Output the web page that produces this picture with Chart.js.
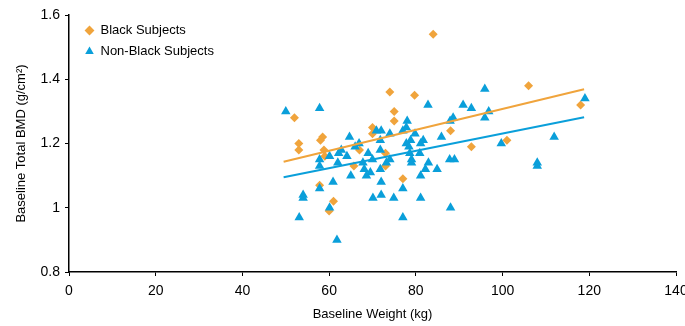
<!DOCTYPE html>
<html>
<head>
<meta charset="utf-8">
<script src="https://cdn.jsdelivr.net/npm/chart.js@4"></script>
<style>
  html, body { margin: 0; padding: 0; background: #fff; }
  .wrap { width: 685px; height: 326px; }
</style>
</head>
<body>
<div class="wrap"><canvas id="bmd-chart" width="685" height="326"></canvas></div>
<script>
// Black subjects: [weight kg, BMD g/cm2]
const blackWeight = [84, 74, 79.7, 52, 75, 75, 70, 70, 58.5, 58, 53, 53, 58.8, 67, 73, 65.7, 73, 88, 92.8, 101, 106, 118, 77, 57.8, 61, 60, 59];
const blackBmd = [1.54, 1.36, 1.35, 1.28, 1.30, 1.27, 1.25, 1.23, 1.22, 1.21, 1.20, 1.18, 1.18, 1.18, 1.17, 1.13, 1.13, 1.24, 1.19, 1.21, 1.38, 1.32, 1.09, 1.07, 1.02, 0.99, 1.16];

// Non-black subjects
const nonBlackWeight = [50, 57.8, 82.8, 90.9, 92.8, 95.9, 96.8, 95.9, 88.6, 87.9, 78, 77.8, 77, 70.9, 72, 74, 79.8, 64.7, 85.9, 71.8,
  78.8, 81.7, 66.9, 81.1, 77.8, 66, 78.4, 71.8, 62.8, 69, 62.2, 80.9, 78.6, 60.1, 64.1, 57.8, 70, 74, 79, 87.8,
  88.9, 73.2, 62, 67.8, 82.9, 79, 57.8, 108, 108, 111.9, 99.7, 119, 84.9, 68.1, 71.8, 82.2, 69.5, 68.6, 65, 81.1,
  60.9, 72, 57.8, 77, 54, 54, 70.1, 72, 74.9, 81.1, 60.1, 53.1, 77, 88, 61.8];
const nonBlackBmd = [1.30, 1.31, 1.32, 1.32, 1.31, 1.37, 1.30, 1.28, 1.28, 1.27, 1.27, 1.25, 1.24, 1.24, 1.24, 1.23, 1.23, 1.22, 1.22, 1.21,
  1.21, 1.21, 1.20, 1.20, 1.20, 1.19, 1.19, 1.18, 1.18, 1.17, 1.17, 1.17, 1.17, 1.16, 1.16, 1.15, 1.15, 1.15, 1.15, 1.15,
  1.15, 1.14, 1.14, 1.14, 1.14, 1.14, 1.13, 1.14, 1.13, 1.22, 1.20, 1.34, 1.12, 1.12, 1.12, 1.12, 1.11, 1.10, 1.10, 1.10,
  1.08, 1.08, 1.06, 1.06, 1.04, 1.03, 1.03, 1.04, 1.03, 1.03, 1.00, 0.97, 0.97, 1.00, 0.90];

// fitted lines (end points)
const blackFitX = [49.5, 118.8];
const blackFitY = [1.143, 1.369];
const nonBlackFitX = [49.5, 118.8];
const nonBlackFitY = [1.095, 1.282];

const orange = "#F0A43C";
const blue = "#0A9FDA";
const font = "'Liberation Sans', Arial, sans-serif";

const toPts = (xs, ys) => xs.map((x, i) => ({ x: x, y: ys[i] }));

// nudge the in-plot legend away from the axes corner
const legendOffset = {
  id: "legendOffset",
  afterLayout(chart) {
    chart.legend.left += 8;
    chart.legend.right += 8;
    chart.legend.top += 16;
    chart.legend.bottom += 16;
  },
};

new Chart(document.getElementById("bmd-chart"), {
  type: "scatter",
  data: {
    datasets: [
      {
        label: "Black Subjects",
        data: toPts(blackWeight, blackBmd),
        pointStyle: "rectRot",
        pointRadius: 4.5,
        backgroundColor: orange,
        borderColor: orange,
        borderWidth: 0,
        order: 2,
      },
      {
        label: "Non-Black Subjects",
        data: toPts(nonBlackWeight, nonBlackBmd),
        pointStyle: "triangle",
        pointRadius: 5.5,
        backgroundColor: blue,
        borderColor: blue,
        borderWidth: 0,
        order: 1,
      },
      {
        label: "fit-black",
        data: toPts(blackFitX, blackFitY),
        showLine: true,
        pointRadius: 0,
        borderColor: orange,
        borderWidth: 2,
        order: 0,
      },
      {
        label: "fit-nonblack",
        data: toPts(nonBlackFitX, nonBlackFitY),
        showLine: true,
        pointRadius: 0,
        borderColor: blue,
        borderWidth: 2,
        order: 0,
      },
    ],
  },
  options: {
    responsive: false,
    animation: false,
    layout: { padding: 0 },
    scales: {
      x: {
        type: "linear",
        min: 0,
        max: 140,
        afterFit: (s) => { s.height = 54; s.paddingRight = 9; s.paddingLeft = 0; },
        ticks: { stepSize: 20, color: "#000", font: { family: font, size: 14 }, padding: 7 },
        grid: { drawOnChartArea: false, drawTicks: true, tickLength: 4, color: "#000" },
        border: { color: "#000", width: 1.5 },
        title: { display: true, text: "Baseline Weight (kg)", color: "#000", font: { family: font, size: 13 }, padding: { top: 2 } },
      },
      y: {
        min: 0.8,
        max: 1.6,
        afterFit: (s) => { s.width = 69; s.paddingTop = 15; s.paddingBottom = 0; },
        ticks: {
          stepSize: 0.2,
          color: "#000",
          font: { family: font, size: 14 },
          padding: 5,
          callback: (v) => (Math.abs(v - 1) < 1e-9 ? "1" : v.toFixed(1)),
        },
        grid: { drawOnChartArea: false, drawTicks: true, tickLength: 4, color: "#000" },
        border: { color: "#000", width: 1.5 },
        title: { display: true, text: "Baseline Total BMD (g/cm\u00B2)", color: "#000", font: { family: font, size: 13 }, padding: { top: 14, bottom: 2 } },
      },
    },
    plugins: {
      legend: {
        position: "chartArea",
        align: "start",
        labels: {
          usePointStyle: true,
          boxWidth: 9,
          boxHeight: 7,
          padding: 8,
          color: "#000",
          font: { family: font, size: 13 },
          sort: (a, b) => a.datasetIndex - b.datasetIndex,
          filter: (item) => !item.text.startsWith("fit"),
        },
      },
      tooltip: { enabled: false },
    },
  },
  plugins: [legendOffset],
});
</script>
</body>
</html>
